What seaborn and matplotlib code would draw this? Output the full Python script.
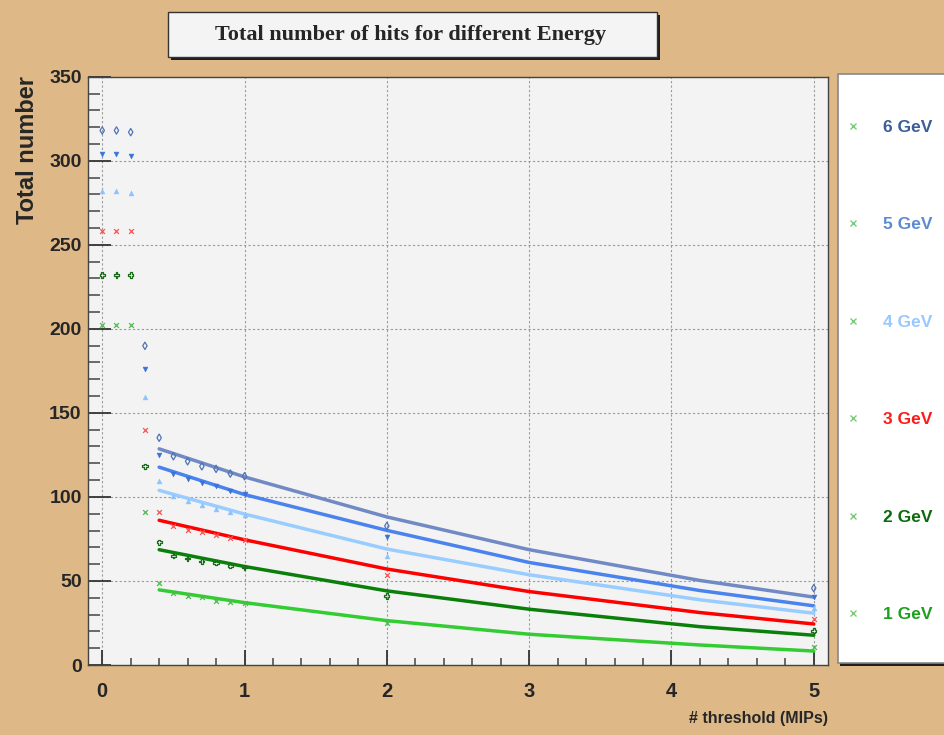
import matplotlib
matplotlib.use("Agg")
import matplotlib.pyplot as plt
from matplotlib.patches import Rectangle
from matplotlib.lines import Line2D
from matplotlib.ticker import MultipleLocator
import seaborn as sns

# ---- measured hit counts -------------------------------------------------
energies = ["6 GeV", "5 GeV", "4 GeV", "3 GeV", "2 GeV", "1 GeV"]

thresholds = [0.0, 0.1, 0.2, 0.3, 0.4, 0.5, 0.6, 0.7, 0.8, 0.9, 1.0, 2.0, 5.0]

hits_6gev = [318, 318, 317, 189.9, 135.2, 124.2, 121.2, 118.2, 116.7, 113.9, 112.3, 82.7, 45.7]
hits_5gev = [304, 304, 303, 176.2, 125.0, 113.9, 110.9, 108.3, 106.3, 103.3, 101.5, 76.0, 40.7]
hits_4gev = [282, 282, 281, 159.3, 109.5, 100.3, 97.8, 95.3, 92.8, 90.8, 89.5, 64.9, 33.8]
hits_3gev = [258, 258, 258, 139.9, 90.9, 82.5, 80.1, 78.9, 77.3, 75.5, 74.2, 53.6, 27.4]
hits_2gev = [232, 232, 232, 118.3, 73.0, 65.0, 63.4, 61.6, 60.8, 59.0, 58.2, 41.1, 20.4]
hits_1gev = [202, 202, 202, 90.9, 49.0, 42.7, 41.1, 40.3, 38.3, 37.7, 36.6, 25.2, 10.5]

# ---- fitted curves (threshold >= 0.4 MIP) --------------------------------
fit_x = [0.4, 1.0, 2.0, 3.0, 4.2, 5.0]
fit_6gev = [128.6, 111.9, 88.1, 68.6, 50.3, 40.4]
fit_5gev = [117.7, 101.4, 80.1, 61.0, 44.3, 35.2]
fit_4gev = [103.9, 89.8, 69.0, 53.7, 38.8, 30.8]
fit_3gev = [86.1, 74.5, 57.1, 43.7, 31.2, 24.4]
fit_2gev = [68.6, 58.6, 44.1, 33.2, 22.8, 17.7]
fit_1gev = [44.7, 37.1, 26.4, 18.3, 11.9, 8.3]

points = [hits_6gev, hits_5gev, hits_4gev, hits_3gev, hits_2gev, hits_1gev]
fits = [fit_6gev, fit_5gev, fit_4gev, fit_3gev, fit_2gev, fit_1gev]

# ---- styling -------------------------------------------------------------
marker_colors = ["#4f74b4", "#3c72d8", "#8cc2ff", "#ff5050", "#1b6e1b", "#4cbb4c"]
line_colors = ["#7189c4", "#4a82ee", "#99ccff", "#ff0000", "#0a800a", "#33cc33"]
label_colors = ["#3a5e98", "#5b8bd0", "#99c8ff", "#ff1a1a", "#0b6a0b", "#1f9f1f"]
marker_shapes = ["d", "v", "^", "x", "P", "x"]
marker_open = [True, False, False, False, True, False]

BG = "#deb887"
SANS = "Liberation Sans"
SERIF = "Liberation Serif"

sns.set_style("ticks")
plt.rcParams["font.family"] = [SANS, "DejaVu Sans"]

W, H = 945, 735
fig = plt.figure(figsize=(W / 100, H / 100), dpi=100, facecolor=BG)


def fx(px):
    return px / W


def fy(py):
    return 1 - py / H


ax = fig.add_axes([fx(88), fy(665), fx(740), 588.3 / H])
ax.set_facecolor("#f3f3f3")

for ys, fy_vals, mcol, lcol, shape, is_open in zip(
    points, fits, marker_colors, line_colors, marker_shapes, marker_open
):
    sns.lineplot(x=fit_x, y=fy_vals, color=lcol, lw=2.5, ax=ax, legend=False, zorder=3)
    kw = dict(ax=ax, legend=False, zorder=4, marker=shape)
    if shape == "x":
        sns.scatterplot(x=thresholds, y=ys, color=mcol, linewidth=0.9, s=12, **kw)
    elif is_open:
        sns.scatterplot(x=thresholds, y=ys, facecolor="none", edgecolor=mcol,
                        linewidth=0.9, s=14, **kw)
    else:
        sns.scatterplot(x=thresholds, y=ys, color=mcol, edgecolor=mcol,
                        linewidth=0.4, s=12, **kw)

ax.set_xlim(-0.1, 5.1)
ax.set_ylim(0, 350)
ax.xaxis.set_major_locator(MultipleLocator(1))
ax.xaxis.set_minor_locator(MultipleLocator(0.2))
ax.yaxis.set_major_locator(MultipleLocator(50))
ax.yaxis.set_minor_locator(MultipleLocator(10))

ax.grid(which="major", ls=(0, (2, 2)), color="#9a9a9a", lw=0.8, zorder=1)
ax.set_axisbelow(True)

ax.tick_params(axis="y", which="major", direction="in", length=16.5, width=1.3,
               color="#333333", labelsize=14, pad=4.5)
ax.tick_params(axis="y", which="minor", direction="in", length=8.3, width=1.1,
               color="#444444")
ax.tick_params(axis="x", which="major", direction="in", length=11, width=1.3,
               color="#333333", labelsize=14.5, pad=12)
ax.tick_params(axis="x", which="minor", direction="in", length=5, width=1.1,
               color="#444444")
for lab in ax.get_xticklabels() + ax.get_yticklabels():
    lab.set_fontweight("bold")

for sp in ax.spines.values():
    sp.set_color("#444444")
    sp.set_linewidth(1.0)

ax.set_xlabel("# threshold (MIPs)", loc="right", fontsize=11.5, fontweight="bold",
              va="center")
ax.xaxis.set_label_coords(1.0, (665 - 718) / 588.3)
ax.set_ylabel("Total number", loc="top", fontsize=17, fontweight="bold",
              va="center")
ax.yaxis.set_label_coords((28 - 88) / 740, (665 - 76) / 588.3)

# ---- title box -----------------------------------------------------------
fig.patches.append(Rectangle((fx(171), fy(60)), fx(489), 45 / H,
                             transform=fig.transFigure, fc="#1e1e1e", ec="none",
                             zorder=0))
fig.patches.append(Rectangle((fx(168), fy(57)), fx(489), 45 / H,
                             transform=fig.transFigure, fc="#f4f4f4", ec="#333333",
                             lw=1.0, zorder=1))
fig.text(fx(411), fy(35), "Total number of hits for different Energy",
         ha="center", va="center", family=SERIF, fontweight="bold", fontsize=16)

# ---- legend --------------------------------------------------------------
fig.patches.append(Rectangle((fx(840), fy(666)), fx(140), (666 - 74) / H,
                             transform=fig.transFigure, fc="#1e1e1e", ec="none",
                             zorder=0))
fig.patches.append(Rectangle((fx(838), fy(663)), fx(140), (663 - 74) / H,
                             transform=fig.transFigure, fc="white", ec="#888888",
                             lw=1.2, zorder=1))
handles = [Line2D([], [], ls="none", marker="x", color="#77cc77", ms=4, mew=1.0)
           for _ in energies]
leg = fig.legend(handles, energies, loc="center left",
                 bbox_to_anchor=(fx(844), fy(371)), frameon=False, borderpad=0,
                 borderaxespad=0, handlelength=1.0, handletextpad=1.25,
                 labelspacing=4.74, prop=dict(family=SANS, weight="bold", size=12.5))
for txt, col in zip(leg.get_texts(), label_colors):
    txt.set_color(col)

fig.savefig("out.png", dpi=100, facecolor=BG)
